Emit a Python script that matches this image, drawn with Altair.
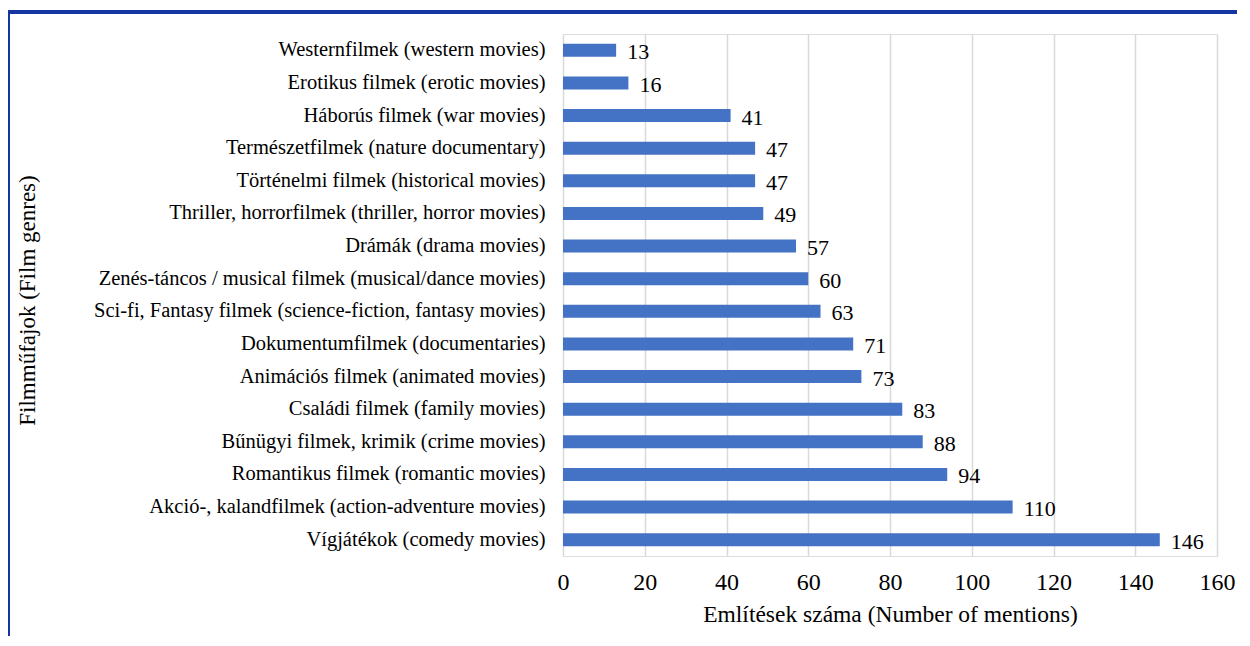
import altair as alt
import pandas as pd

genres = [
    "Westernfilmek (western movies)",
    "Erotikus filmek (erotic movies)",
    "Háborús filmek (war movies)",
    "Természetfilmek (nature documentary)",
    "Történelmi filmek (historical movies)",
    "Thriller, horrorfilmek (thriller, horror movies)",
    "Drámák (drama movies)",
    "Zenés-táncos / musical filmek (musical/dance movies)",
    "Sci-fi, Fantasy filmek (science-fiction, fantasy movies)",
    "Dokumentumfilmek (documentaries)",
    "Animációs filmek (animated movies)",
    "Családi filmek (family movies)",
    "Bűnügyi filmek, krimik (crime movies)",
    "Romantikus filmek (romantic movies)",
    "Akció-, kalandfilmek (action-adventure movies)",
    "Vígjátékok (comedy movies)",
]
mentions = [13, 16, 41, 47, 47, 49, 57, 60, 63, 71, 73, 83, 88, 94, 110, 146]
x_ticks = [0, 20, 40, 60, 80, 100, 120, 140, 160]

df = pd.DataFrame({"genre": genres, "mentions": mentions})
FONT = "Liberation Serif"

y_enc = alt.Y("genre:N", sort=genres,
              scale=alt.Scale(paddingInner=0.6, paddingOuter=0.3),
              axis=alt.Axis(title="Filmműfajok (Film genres)", titleFontSize=23,
                            titleFont=FONT, titleFontWeight="normal", titleColor="#000",
                            titlePadding=0, titleX=-536, titleY=266,
                            titleBaseline="middle",
                            labelFont=FONT, labelFontSize=20.5, labelColor="#000",
                            labelPadding=18, ticks=False, domain=False, grid=False,
                            labelLimit=600))
x_enc = alt.X("mentions:Q", scale=alt.Scale(domain=[0, 160], nice=False),
              axis=alt.Axis(values=x_ticks, title="Említések száma (Number of mentions)",
                            titleFont=FONT, titleFontSize=23.5, titleFontWeight="normal",
                            titleColor="#000", titlePadding=8,
                            labelFont=FONT, labelFontSize=24, labelColor="#000",
                            labelPadding=14, labelFlush=False, labelOverlap=False,
                            ticks=False, domain=False,
                            grid=True, gridColor="#d9d9d9", gridWidth=1.5))

bars = alt.Chart(df).mark_bar(color="#4472C4").encode(y=y_enc, x=x_enc)
labels = alt.Chart(df).mark_text(align="left", baseline="middle", dx=11, dy=2,
                                 font=FONT, fontSize=22, color="#000").encode(
    y=alt.Y("genre:N", sort=genres), x="mentions:Q", text="mentions:Q")

frame_top = alt.Chart(df).mark_rule(color="#1536A0", strokeWidth=3, clip=False).encode(
    x=alt.value(-556), x2=alt.value(700), y=alt.value(-22))
frame_left = alt.Chart(df).mark_rule(color="#1536A0", strokeWidth=3, clip=False).encode(
    x=alt.value(-555), y=alt.value(-22), y2=alt.value(620))

chart = alt.layer(bars, labels, frame_top, frame_left).properties(
    width=654, height=522,
    padding={"left": 555, "top": 26, "right": 20, "bottom": 80},
    autosize=alt.AutoSizeParams(type="none"),
).configure_view(stroke=None).configure(background="white")

chart.save("out.html", embed_options={"renderer": "svg", "actions": False})
